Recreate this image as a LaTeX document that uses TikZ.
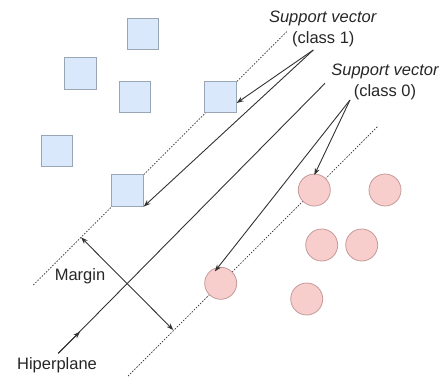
\documentclass[tikz,border=0pt]{standalone}
\usepackage{fontspec}
\setmainfont{Liberation Sans}
\usetikzlibrary{arrows.meta}
\definecolor{sqfill}{HTML}{DAE8FC}
\definecolor{sqdraw}{HTML}{9AA6B4}
\definecolor{cifill}{HTML}{F8CECC}
\definecolor{cidraw}{HTML}{C49A9A}
\definecolor{ln}{HTML}{333333}
\tikzset{
  sq/.style={draw=sqdraw, fill=sqfill, minimum size=31.5pt, inner sep=0pt, line width=0.8pt},
  ci/.style={circle, draw=cidraw, fill=cifill, minimum size=32pt, inner sep=0pt, line width=0.8pt},
  dotline/.style={draw=ln, dash pattern=on 1.5pt off 1.5pt, line width=0.7pt},
  solid line/.style={draw=ln, line width=0.9pt},
  arr/.style={solid line, -{Stealth[length=7pt,width=5pt]}},
  txt/.style={font=\fontsize{16.5}{19}\selectfont, inner sep=0pt, text=black!85},
  itxt/.style={txt, font=\fontsize{16.5}{19}\selectfont\itshape}
}
\begin{document}
\begin{tikzpicture}[x=1pt,y=-1pt]
\useasboundingbox (0,0) rectangle (443,376);
% dotted margins
\coordinate (u1) at (33.3,285);
\coordinate (u2) at (286.7,31.7);
\coordinate (l1) at (128,376);
\coordinate (l2) at (378,126);
\draw[dotline] (u1) -- (u2);
\draw[dotline] (l1) -- (l2);
% hyperplane
\coordinate (h1) at (58.3,353.3);
\coordinate (ha) at (80,331.7);
\coordinate (h2) at (325,83.3);
\draw[solid line] (h1) -- (h2);
\draw[arr] (h1) -- (ha);
% squares
\node[sq] (sA) at (143,34) {};
\node[sq] (sB) at (80.5,73.5) {};
\node[sq] (sC) at (135,97) {};
\node[sq] (sD) at (220.5,97) {};
\node[sq] (sE) at (56.7,151) {};
\node[sq] (sF) at (127.5,190.5) {};
% circles
\node[ci] (c1) at (314.3,190) {};
\node[ci] (c2) at (385,190) {};
\node[ci] (c3) at (321.7,245) {};
\node[ci] (c4) at (361.7,245) {};
\node[ci] (c5) at (220.7,283.3) {};
\node[ci] (c6) at (306.7,299) {};
% margin arrow
\coordinate (m1) at (81,237.3);
\coordinate (m2) at (173.3,330);
\draw[solid line, {Stealth[length=7pt,width=5pt]}-{Stealth[length=7pt,width=5pt]}] (m1) -- (m2);
% labels
\node[itxt] (sv1) at (322.7,18.3) {Support vector};
\node[txt] (cl1) at (323.3,39.3) {(class 1)};
\node[itxt] (sv0) at (385,71.7) {Support vector};
\node[txt] (cl0) at (385,92.7) {(class 0)};
\node[txt] (mg) at (80,276) {Margin};
\node[txt] (hp) at (57,365) {Hiperplane};
% support vector arrows
\coordinate (a1) at (313.3,50);
\coordinate (a0) at (350,100);
\draw[arr] (a1) -- (sD.east |- 0,103);
\draw[arr] (a1) -- (sF.south east);
\draw[arr] (a0) -- ([yshift=-1.5pt]c1.north);
\draw[arr] (a0) -- ([shift={(1pt,-3pt)}]c5.115);
\end{tikzpicture}
\end{document}
